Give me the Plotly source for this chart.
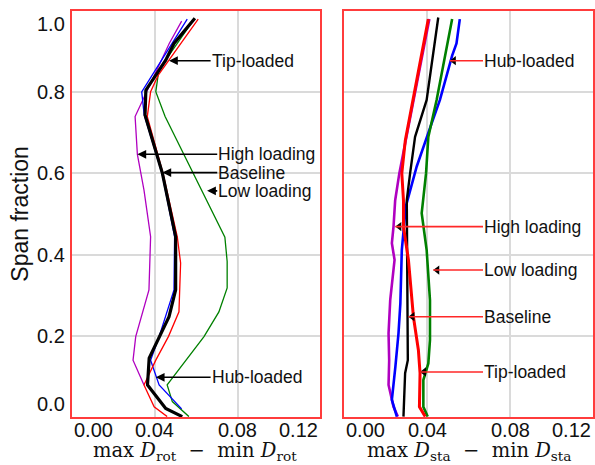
import plotly.graph_objects as go

# ---------------- data (rotor, left panel) ----------------
rot_base_span = [0.001, 0.021, 0.079, 0.145, 0.247, 0.313, 0.444, 0.600, 0.744, 0.805, 0.879, 0.920, 0.982]
rot_base_val  = [0.0533, 0.0453, 0.0365, 0.0373, 0.0469, 0.0501, 0.0501, 0.0437, 0.0353, 0.0357, 0.0453, 0.0493, 0.0594]

rot_tip_span = [0.001, 0.025, 0.079, 0.140, 0.198, 0.259, 0.379, 0.444, 0.600, 0.740, 0.801, 0.842, 0.980]
rot_tip_val  = [0.0460, 0.0397, 0.0348, 0.0405, 0.0466, 0.0517, 0.0525, 0.0509, 0.0440, 0.0364, 0.0380, 0.0417, 0.0610]

rot_hub_span = [0.020, 0.079, 0.140, 0.198, 0.313, 0.444, 0.600, 0.744, 0.801, 0.980]
rot_hub_val  = [0.0530, 0.0421, 0.0380, 0.0421, 0.0493, 0.0496, 0.0435, 0.0349, 0.0337, 0.0557]

rot_high_span = [0.079, 0.140, 0.198, 0.313, 0.444, 0.559, 0.647, 0.740, 0.797, 0.920, 0.975]
rot_high_val  = [0.0348, 0.0295, 0.0308, 0.0372, 0.0380, 0.0348, 0.0316, 0.0305, 0.0357, 0.0470, 0.0530]

rot_low_span = [0.001, 0.038, 0.079, 0.198, 0.259, 0.318, 0.383, 0.443, 0.740, 0.801, 0.855, 0.980]
rot_low_val  = [0.0565, 0.0485, 0.0460, 0.0638, 0.0710, 0.0750, 0.0750, 0.0739, 0.0450, 0.0405, 0.0420, 0.0590]

# ---------------- data (stator, right panel) ----------------
sta_base_span = [0.001, 0.108, 0.140, 0.370, 0.534, 0.600, 0.690, 0.781, 0.904, 0.984]
sta_base_val  = [0.0285, 0.0293, 0.0306, 0.0301, 0.0301, 0.0317, 0.0341, 0.0397, 0.0429, 0.0453]

sta_tip_span = [0.001, 0.025, 0.108, 0.165, 0.247, 0.387, 0.469, 0.534, 0.600, 0.682, 0.980]
sta_tip_val  = [0.0390, 0.0362, 0.0365, 0.0357, 0.0333, 0.0309, 0.0285, 0.0285, 0.0277, 0.0294, 0.0405]

sta_hub_span = [0.001, 0.042, 0.124, 0.206, 0.280, 0.411, 0.518, 0.617, 0.700, 0.781, 0.890, 0.920, 0.980]
sta_hub_val  = [0.0253, 0.0229, 0.0246, 0.0261, 0.0270, 0.0277, 0.0296, 0.0349, 0.0405, 0.0461, 0.0520, 0.0541, 0.0557]

sta_high_span = [0.001, 0.025, 0.079, 0.140, 0.206, 0.288, 0.387, 0.428, 0.469, 0.534, 0.600, 0.980]
sta_high_val  = [0.0258, 0.0237, 0.0213, 0.0216, 0.0213, 0.0221, 0.0242, 0.0229, 0.0237, 0.0245, 0.0265, 0.0410]

sta_low_span = [0.001, 0.025, 0.091, 0.132, 0.190, 0.288, 0.411, 0.502, 0.600, 0.690, 0.781, 0.904, 0.980]
sta_low_val  = [0.0402, 0.0381, 0.0381, 0.0405, 0.0413, 0.0413, 0.0397, 0.0373, 0.0394, 0.0405, 0.0445, 0.0493, 0.0520]

x_ticks = [0.00, 0.04, 0.08, 0.12]
x_tick_text = ["0.00", "0.04", "0.08", "0.12"]
y_ticks = [0.0, 0.2, 0.4, 0.6, 0.8, 1.0]
y_tick_text = ["0.0", "0.2", "0.4", "0.6", "0.8", "1.0"]

# label positions: (label, head x, head y, text x)
rot_labels = [("Tip-loaded", 0.0469, 0.8776, 0.0670),
              ("High loading", 0.0316, 0.647, 0.0702),
              ("Baseline", 0.0437, 0.602, 0.0702),
              ("Low loading", 0.0653, 0.557, 0.0702),
              ("Hub-loaded", 0.0405, 0.0978, 0.0670)]
sta_labels = [("Hub-loaded", 0.0509, 0.8776, 0.0669),
              ("High loading", 0.0246, 0.469, 0.0669),
              ("Low loading", 0.0429, 0.362, 0.0669),
              ("Baseline", 0.0309, 0.247, 0.0669),
              ("Tip-loaded", 0.0365, 0.111, 0.0669)]

BLACK = "#000000"
RED = "#ff0000"
BLUE = "#0000ff"
MAG = "#b000c0"
GREEN = "#008000"
FRAME = "rgb(255,60,60)"
GRID = "#dadada"

fig = go.Figure()

def add(xs, ys, color, width, xa, ya):
    fig.add_trace(go.Scatter(x=xs, y=ys, mode="lines", xaxis=xa, yaxis=ya,
                             line=dict(color=color, width=width), showlegend=False,
                             hoverinfo="skip"))

# left panel (black on top)
add(rot_low_val, rot_low_span, GREEN, 1.3, "x", "y")
add(rot_high_val, rot_high_span, MAG, 1.3, "x", "y")
add(rot_hub_val, rot_hub_span, BLUE, 1.3, "x", "y")
add(rot_tip_val, rot_tip_span, RED, 1.3, "x", "y")
add(rot_base_val, rot_base_span, BLACK, 3.2, "x", "y")

# right panel
add(sta_high_val, sta_high_span, MAG, 2.6, "x2", "y2")
add(sta_hub_val, sta_hub_span, BLUE, 2.6, "x2", "y2")
add(sta_low_val, sta_low_span, GREEN, 2.6, "x2", "y2")
add(sta_base_val, sta_base_span, BLACK, 2.4, "x2", "y2")
add(sta_tip_val, sta_tip_span, RED, 3.0, "x2", "y2")

axis_common = dict(range=[0, 0.12], showticklabels=False, ticks="",
                   showgrid=True, gridcolor=GRID, gridwidth=1.5, zeroline=False,
                   showline=True, mirror=True, linecolor=FRAME, linewidth=1.5,
                   tickvals=[0.04, 0.08])
yaxis_common = dict(range=[0, 1.0], showticklabels=False, ticks="",
                    showgrid=True, gridcolor=GRID, gridwidth=1.5, zeroline=False,
                    showline=True, mirror=True, linecolor=FRAME, linewidth=1.5,
                    tickvals=[0.2, 0.4, 0.6, 0.8])

fig.update_layout(
    width=595, height=465,
    margin=dict(l=72, r=0, t=11, b=48),
    plot_bgcolor="white", paper_bgcolor="white",
    xaxis=dict(domain=[0, 0.4765], anchor="y", **axis_common),
    xaxis2=dict(domain=[0.5229, 1.0], anchor="y2", **axis_common),
    yaxis=dict(domain=[0, 1], anchor="x", **yaxis_common),
    yaxis2=dict(domain=[0, 1], anchor="x2", **yaxis_common),
    font=dict(family="Liberation Sans, Arial, sans-serif", color="#111111"),
)

anns = []
TICKFONT = dict(family="Liberation Sans, Arial, sans-serif", size=20, color="#111111")
# x tick labels
for xr in ("x", "x2"):
    for v, t in zip(x_ticks, x_tick_text):
        xanchor = "center"
        if v == x_ticks[0]:
            xanchor = "left"
        elif v == x_ticks[-1]:
            xanchor = "right"
        anns.append(dict(x=v, y=-0.032, xref=xr, yref="paper", text=t,
                         showarrow=False, xanchor=xanchor, yanchor="middle",
                         font=TICKFONT))
# y tick labels
for v, t in zip(y_ticks, y_tick_text):
    yanchor = "middle"
    if v == y_ticks[-1]:
        yanchor = "top"
    elif v == y_ticks[0]:
        yanchor = "bottom"
    anns.append(dict(x=-0.0096, y=v, xref="paper", yref="y", text=t,
                     showarrow=False, xanchor="right", yanchor=yanchor,
                     font=TICKFONT))
# y axis title
anns.append(dict(x=-0.1, y=0.5005, xref="paper", yref="paper", text="Span fraction",
                 showarrow=False, textangle=-90, xanchor="center", yanchor="middle",
                 font=dict(family="Liberation Sans, Arial, sans-serif", size=23, color="#111111")))
# x axis titles
SERIF = dict(family="DejaVu Serif, Liberation Serif, serif", size=19.5, color="#111111")
anns.append(dict(x=0.0595, y=-0.084, xref="x", yref="paper",
                 text="max&nbsp;<i>D</i><sub>rot</sub>&nbsp;&nbsp;−&nbsp;&nbsp;min&nbsp;<i>D</i><sub>rot</sub>",
                 showarrow=False, xanchor="center", yanchor="middle", font=SERIF))
anns.append(dict(x=0.0600, y=-0.084, xref="x2", yref="paper",
                 text="max&nbsp;<i>D</i><sub>sta</sub>&nbsp;&nbsp;−&nbsp;&nbsp;min&nbsp;<i>D</i><sub>sta</sub>",
                 showarrow=False, xanchor="center", yanchor="middle", font=SERIF))

LABFONT = dict(family="Liberation Sans, Arial, sans-serif", size=17.5, color="#111111")
for lab, hx, hy, tx in rot_labels:
    anns.append(dict(x=hx, y=hy, xref="x", yref="y", ax=tx, ay=hy, axref="x", ayref="y",
                     text=lab, showarrow=True, arrowhead=2, arrowsize=1.1, arrowwidth=1.6,
                     arrowcolor="black", xanchor="left", yanchor="middle",
                     font=LABFONT, borderpad=0))
for lab, hx, hy, tx in sta_labels:
    anns.append(dict(x=hx, y=hy, xref="x2", yref="y2", ax=tx, ay=hy, axref="x2", ayref="y2",
                     text=lab, showarrow=True, arrowhead=0, arrowwidth=1.6,
                     arrowcolor="rgb(255,40,40)", xanchor="left", yanchor="middle",
                     font=LABFONT, borderpad=0))

# black arrowheads on the red pointer lines of the right panel
HEAD_OFFSET = 0.0019  # half a marker width in data units
fig.add_trace(go.Scatter(x=[h[1] + HEAD_OFFSET for h in sta_labels],
                         y=[h[2] for h in sta_labels],
                         mode="markers", xaxis="x2", yaxis="y2",
                         marker=dict(symbol="triangle-left", size=8, color="black",
                                     line=dict(width=0)),
                         showlegend=False, hoverinfo="skip"))

fig.update_layout(annotations=anns)
fig.write_html("out.html")
